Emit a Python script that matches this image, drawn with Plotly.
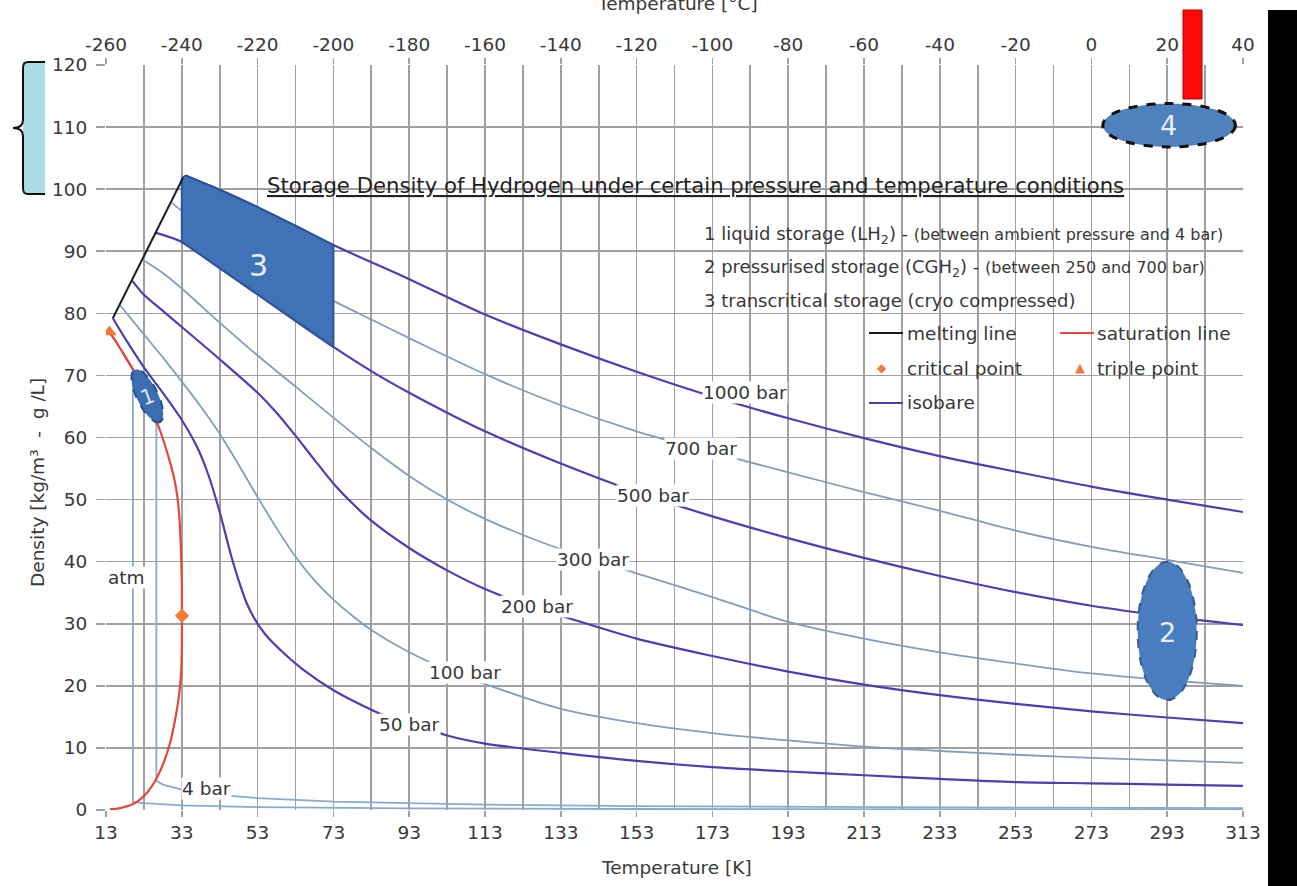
import numpy as np
import plotly.graph_objects as go

# ---------------- data ----------------
k_ticks = list(range(13, 314, 20))
k_minor = list(range(23, 314, 20))
c_ticks = list(range(-260, 41, 20))
rho_ticks = list(range(0, 121, 10))

melt_T = [14.8, 33.3]
melt_rho = [79.2, 101.8]

sat_T = [13.8, 16, 18, 20.3, 22, 24, 26, 28, 30, 31, 31.8, 32.4, 32.8, 33.0, 33.05,
         33.0, 32.9, 32.5, 32, 31, 30, 28, 26, 24, 22, 20.3, 18, 16, 14]
sat_rho = [77.0, 75.1, 73.1, 70.8, 68.8, 66.2, 63.2, 59.8, 55.8, 53.4, 50.6, 46.8, 41.5, 36.5, 31.3,
           26.5, 23.0, 19.8, 17.3, 13.8, 11.0, 7.3, 4.7, 2.9, 1.7, 1.0, 0.5, 0.22, 0.1]

triple_T, triple_rho = [13.9], [77.0]
crit_T, crit_rho = [33.05], [31.3]

atm_T = [13.9, 17, 20.1, 20.1, 23, 33, 53, 93, 153, 213, 313]
atm_rho = [77.0, 74.1, 70.9, 1.3, 1.12, 0.76, 0.47, 0.265, 0.16, 0.115, 0.078]

p4_T = [14.0, 20.0, 26.3, 26.3, 28, 33, 40, 53, 73, 93, 113, 153, 213, 263, 313]
p4_rho = [77.2, 70.9, 62.0, 4.7, 4.1, 3.3, 2.55, 1.92, 1.36, 1.06, 0.87, 0.64, 0.46, 0.37, 0.31]

p50_T = [14.8, 18, 23, 28, 32.5, 37, 40, 43, 46, 48, 50, 52, 55, 60, 65, 73, 85, 93, 103, 113,
         133, 153, 173, 193, 213, 233, 253, 273, 293, 313]
p50_rho = [79.2, 76.0, 71.3, 67.2, 63.3, 58.5, 54.0, 48.0, 41.0, 37.0, 33.5, 31.0, 28.3, 25.2, 22.6,
           19.3, 15.6, 14.0, 12.0, 10.7, 9.2, 7.9, 6.9, 6.2, 5.6, 5.0, 4.5, 4.3, 4.1, 3.9]

p100_T = [16.7, 23, 28, 33, 38, 43, 48, 53, 58, 63, 68, 73, 78, 83, 93, 103, 113, 133, 153, 173, 193,
          213, 233, 253, 273, 293, 313]
p100_rho = [81.3, 76.6, 72.9, 69.0, 65.0, 60.6, 55.6, 50.4, 45.4, 40.8, 37.0, 33.9, 31.3, 29.0, 25.4,
            22.6, 20.3, 16.3, 14.0, 12.4, 11.2, 10.2, 9.5, 8.9, 8.4, 8.0, 7.6]

p200_T = [20.0, 23, 28, 33, 43, 53, 58, 63, 68, 73, 78, 83, 93, 103, 113, 126, 133, 153, 173, 193, 213,
          233, 253, 273, 293, 313]
p200_rho = [85.2, 83.0, 80.4, 77.8, 72.6, 67.2, 64.0, 60.3, 56.4, 52.6, 49.4, 46.6, 42.2, 38.6, 35.6,
            32.6, 31.3, 27.6, 24.8, 22.3, 20.2, 18.5, 17.1, 15.9, 14.9, 14.0]

p300_T = [22.8, 28, 33, 43, 53, 63, 73, 83, 93, 103, 113, 123, 133, 143, 153, 173, 193, 213, 233,
          253, 273, 293, 313]
p300_rho = [88.6, 86.5, 84.0, 78.5, 73.2, 68.2, 63.2, 58.3, 53.8, 50.0, 46.9, 44.3, 42.0, 40.0, 38.1,
            34.3, 30.3, 27.6, 25.4, 23.6, 22.0, 20.9, 20.0]

p500_T = [26, 33, 43, 53, 63, 73, 83, 93, 103, 113, 133, 153, 173, 193, 213, 233, 253, 273, 293, 313]
p500_rho = [93.0, 91.5, 87.3, 83.05, 78.8, 74.6, 70.7, 67.2, 64.0, 61.0, 55.8, 51.2, 47.3, 43.8, 40.6,
            37.7, 35.1, 32.9, 31.2, 29.8]

p700_T = [30.4, 33, 43, 53, 63, 73, 83, 93, 113, 133, 153, 173, 193, 213, 233, 253, 273, 293, 313]
p700_rho = [97.8, 96.5, 92.5, 88.7, 85.2, 82.0, 79.0, 76.0, 70.2, 65.2, 61.0, 57.6, 54.4, 51.2, 48.2,
            45.0, 42.4, 40.3, 38.2]

p1000_T = [34.0, 43, 53, 63, 73, 93, 113, 133, 153, 173, 193, 213, 233, 253, 273, 293, 313]
p1000_rho = [102.2, 99.9, 97.1, 94.1, 91.0, 85.5, 79.8, 75.0, 70.6, 66.6, 63.1, 59.9, 57.0, 54.5,
             52.1, 50.0, 48.0]

label_text = ["1000 bar", "700 bar", "500 bar", "300 bar", "200 bar", "100 bar", "50 bar", "4 bar", "atm"]
label_T = [181.6, 170.0, 157.3, 141.5, 126.7, 107.7, 93.0, 39.6, 18.3]
label_rho = [67.3, 58.3, 50.6, 40.3, 32.7, 22.2, 13.7, 3.5, 37.5]

region3_Tmin, region3_Tmax = 33.0, 73.0

# ---------------- layout geometry ----------------
W, H = 1297, 886
ML, MR, MT, MB = 106, 54, 65, 76
PW, PH = W - ML - MR, H - MT - MB
XR, YR = (13, 313), (0, 120)
KX, KY = PW / (XR[1] - XR[0]), PH / (YR[1] - YR[0])


def px(x):
    return (x - ML) / PW


def py(y):
    return (H - MB - y) / PH


def P(x, y):
    return f"{px(x):.5f},{py(y):.5f}"


FONT = "DejaVu Sans"
FS = 18.5
TXT = "#383838"
GRID = "#A0A0A0"
DARK = "#4B3FB2"
LIGHT = "#849DB8"
VLIGHT = "#88AACF"

fig = go.Figure()

isobars = [
    (atm_T, atm_rho, VLIGHT, 1.8, "linear"),
    (p4_T, p4_rho, VLIGHT, 1.8, "linear"),
    (p50_T, p50_rho, DARK, 2.2, "spline"),
    (p100_T, p100_rho, LIGHT, 1.8, "spline"),
    (p200_T, p200_rho, DARK, 2.2, "spline"),
    (p300_T, p300_rho, LIGHT, 1.8, "spline"),
    (p500_T, p500_rho, DARK, 2.2, "spline"),
    (p700_T, p700_rho, LIGHT, 1.8, "spline"),
    (p1000_T, p1000_rho, DARK, 2.2, "spline"),
]
for T, r, c, w, shp in isobars:
    line = dict(color=c, width=w, shape=shp)
    if shp == "spline":
        line["smoothing"] = 0.8
    fig.add_trace(go.Scatter(x=T, y=r, mode="lines", line=line, hoverinfo="skip", showlegend=False))

# region 3 (between 500 and 1000 bar, 33..73 K)
top_T = [region3_Tmin] + [t for t in p1000_T if t <= region3_Tmax]
top_r = [melt_rho[1]] + [r for t, r in zip(p1000_T, p1000_rho) if t <= region3_Tmax]
bot = [(t, r) for t, r in zip(p500_T, p500_rho) if region3_Tmin <= t <= region3_Tmax][::-1]
reg_T = top_T + [b[0] for b in bot] + [top_T[0]]
reg_r = top_r + [b[1] for b in bot] + [top_r[0]]
fig.add_trace(go.Scatter(x=reg_T, y=reg_r, mode="lines", fill="toself", fillcolor="#3F72B6",
                         line=dict(color="#2D5597", width=2), hoverinfo="skip", showlegend=False))

# saturation and melting lines
fig.add_trace(go.Scatter(x=sat_T, y=sat_rho, mode="lines",
                         line=dict(color="#E4483C", width=2.2, shape="spline", smoothing=0.6),
                         hoverinfo="skip", showlegend=False))
fig.add_trace(go.Scatter(x=melt_T, y=melt_rho, mode="lines", line=dict(color="#1A1A1A", width=2),
                         hoverinfo="skip", showlegend=False))
fig.add_trace(go.Scatter(x=triple_T, y=triple_rho, mode="markers",
                         marker=dict(symbol="triangle-up", size=13, color="#F47A3A"),
                         hoverinfo="skip", showlegend=False))
fig.add_trace(go.Scatter(x=crit_T, y=crit_rho, mode="markers",
                         marker=dict(symbol="diamond", size=11, color="#F47A3A"),
                         hoverinfo="skip", showlegend=False))
# helper trace so that the °C axis is drawn
fig.add_trace(go.Scatter(x=[c_ticks[0], c_ticks[-1]], y=[rho_ticks[0], rho_ticks[0]], xaxis="x2",
                         mode="lines", line=dict(width=0), opacity=0, hoverinfo="skip", showlegend=False))

shapes = []
# white boxes behind title and legend (cover grid only)
for x0, y0, x1, y1 in [(255, 163, 1135, 202), (700, 213, 1240, 320), (857, 320, 1240, 418)]:
    shapes.append(dict(type="rect", xref="paper", yref="paper", x0=px(x0), x1=px(x1), y0=py(y1), y1=py(y0),
                       fillcolor="white", line=dict(width=0), layer="between"))

# ellipse 1 (rotated) in data coordinates
cT, cR, a, b, ang = 23.9, 66.7, 29, 10.5, np.deg2rad(64)
t = np.linspace(0, 2 * np.pi, 73)
dx = a * np.cos(t) * np.cos(ang) - b * np.sin(t) * np.sin(ang)
dy = a * np.cos(t) * np.sin(ang) + b * np.sin(t) * np.cos(ang)
eT, eR = cT + dx / KX, cR - dy / KY
path1 = "M " + " L ".join(f"{x:.4f},{y:.4f}" for x, y in zip(eT, eR)) + " Z"
shapes.append(dict(type="path", xref="x", yref="y", path=path1, fillcolor="#3B6DB2",
                   line=dict(color="#2B4E86", width=2, dash="dash")))
# ellipse 2
shapes.append(dict(type="circle", xref="x", yref="y", x0=285.2, x1=300.8, y0=17.7, y1=40.0,
                   fillcolor="#4A7DC0", line=dict(color="#3A5A86", width=2, dash="dash")))
# ellipse 4
shapes.append(dict(type="circle", xref="x", yref="y", x0=276, x1=311, y0=106.8, y1=113.8,
                   fillcolor="#4F81BD", line=dict(color="#111111", width=3, dash="dash")))
# red bar, black bar
shapes.append(dict(type="rect", xref="paper", yref="paper", x0=px(1183), x1=px(1202), y0=py(99), y1=py(10),
                   fillcolor="#FF0A0A", line=dict(color="#B00000", width=1)))
shapes.append(dict(type="rect", xref="paper", yref="paper", x0=px(1268), x1=px(1300), y0=py(890), y1=py(10),
                   fillcolor="#000000", line=dict(width=0)))
# light blue bracket box at top-left
shapes.append(dict(type="rect", xref="paper", yref="paper", x0=px(23), x1=px(45), y0=py(194), y1=py(62),
                   fillcolor="#ABDCE5", line=dict(width=0)))
brace = (f"M {P(45,62)} L {P(28,62)} C {P(24,62)} {P(23,64)} {P(23,68)} L {P(23,120)} "
         f"C {P(23,125)} {P(20,128)} {P(13,128)} C {P(20,128)} {P(23,131)} {P(23,136)} "
         f"L {P(23,188)} C {P(23,192)} {P(24,194)} {P(28,194)} L {P(45,194)}")
shapes.append(dict(type="path", xref="paper", yref="paper", path=brace, line=dict(color="#111111", width=2)))
# legend swatches
for x0, x1, yy, col in [(869, 903, 333, "#1A1A1A"), (1060, 1094, 333, "#E4483C"), (869, 903, 403, DARK)]:
    shapes.append(dict(type="line", xref="paper", yref="paper", x0=px(x0), x1=px(x1), y0=py(yy), y1=py(yy),
                       line=dict(color=col, width=2)))

ann = []
for txt, T, r in zip(label_text, label_T, label_rho):
    ann.append(dict(x=T, y=r, xref="x", yref="y", text=txt, showarrow=False, bgcolor="white",
                    borderpad=0, font=dict(family=FONT, size=FS, color=TXT)))


def pa(x, y, text, size=FS, color=TXT, xanchor="left", **kw):
    d = dict(x=px(x), y=py(y), xref="paper", yref="paper", text=text, showarrow=False,
             xanchor=xanchor, yanchor="middle", font=dict(family=FONT, size=size, color=color))
    d.update(kw)
    return d


ann += [
    pa(695, 186, "<u>Storage Density of Hydrogen under certain pressure and temperature conditions</u>",
       size=21.2, color="#222222", xanchor="center"),
    pa(702, 235, "1 liquid storage (LH<sub>2</sub>) - <span style='font-size:16px'>(between ambient pressure and 4 bar)</span>", size=18),
    pa(702, 268, "2 pressurised storage (CGH<sub>2</sub>) - <span style='font-size:16px'>(between 250 and 700 bar)</span>", size=18),
    pa(702, 300, "3 transcritical storage (cryo compressed)", size=18),
    pa(905, 333, "melting line", size=18.5),
    pa(1095, 333, "saturation line", size=18.5),
    pa(882, 368, "◆", size=12, color="#F47A3A", xanchor="center"),
    pa(905, 368, "critical point", size=18.5),
    pa(1080, 367, "▲", size=13, color="#F47A3A", xanchor="center"),
    pa(1095, 368, "triple point", size=18.5),
    pa(905, 403, "isobare", size=18.5),
    pa(676, 867, "Temperature [K]", size=FS, xanchor="center"),
    pa(677, 4, "Temperature [°C]", size=FS, xanchor="center"),
    pa(37, 483, "Density [kg/m³  -  g /L]", size=FS, xanchor="center", textangle=-90),
    pa(258, 265, "3", size=30, color="#E6EEF8", xanchor="center"),
    pa(1167, 632, "2", size=27, color="#E6EEF8", xanchor="center"),
    pa(1168, 126, "4", size=27, color="#E6EEF8", xanchor="center"),
    pa(147, 397, "1", size=21, color="#D8E4F4", xanchor="center", textangle=-20),
]

axis_font = dict(family=FONT, size=FS, color=TXT)
fig.update_layout(
    width=W, height=H,
    margin=dict(l=ML, r=MR, t=MT, b=MB, autoexpand=False),
    paper_bgcolor="white", plot_bgcolor="white", showlegend=False,
    font=dict(family=FONT, color=TXT),
    xaxis=dict(range=list(XR), tickmode="array", tickvals=k_ticks, ticktext=[str(v) for v in k_ticks],
               showgrid=True, gridcolor=GRID, gridwidth=1.6, zeroline=False, showline=False,
               ticks="outside", ticklen=6, tickcolor=GRID, tickwidth=1.6, tickfont=axis_font,
               minor=dict(tickmode="array", tickvals=k_minor, showgrid=True, gridcolor=GRID,
                          gridwidth=1.6, ticks="")),
    xaxis2=dict(range=[c_ticks[0], c_ticks[-1]], overlaying="x", side="top", tickmode="array",
                tickvals=c_ticks, ticktext=[str(v) for v in c_ticks], showgrid=False, zeroline=False,
                showline=False, ticks="outside", ticklen=6, tickcolor=GRID, tickwidth=1.6, tickfont=axis_font),
    yaxis=dict(range=list(YR), tickmode="array", tickvals=rho_ticks, ticktext=[str(v) for v in rho_ticks],
               showgrid=True, gridcolor=GRID, gridwidth=1.6, zeroline=False, showline=False,
               ticks="outside", ticklen=9, tickcolor=GRID, tickwidth=1.6, tickfont=axis_font,
               ticklabelstandoff=5),
    shapes=shapes, annotations=ann,
)

fig.write_html("out.html", config={"displayModeBar": False, "staticPlot": True},
               post_script="document.body.style.margin='0';document.body.style.overflow='hidden';")
